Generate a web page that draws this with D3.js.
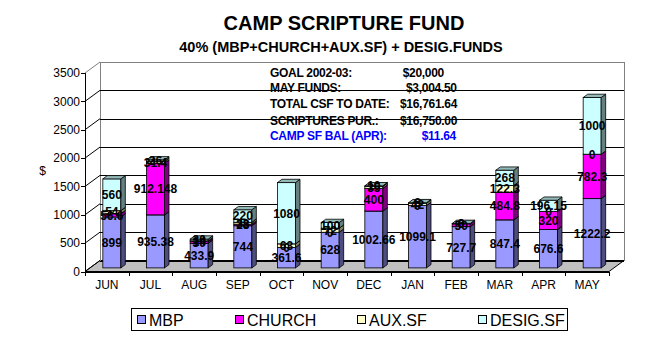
<!DOCTYPE html>
<html><head><meta charset="utf-8">
<script src="https://cdn.jsdelivr.net/npm/d3@7"></script>
<style>html,body{margin:0;padding:0;background:#fff;}svg{display:block;}</style>
</head><body>
<script>
const months = ["JUN","JUL","AUG","SEP","OCT","NOV","DEC","JAN","FEB","MAR","APR","MAY"];
const mbp     = [899, 935.38, 433.9, 744, 361.6, 628, 1002.66, 1099.1, 727.7, 847.4, 676.6, 1222.2];
const church  = [56.6, 912.148, 30, 28, 0, 0, 400, 0, 50, 484.8, 320, 782.3];
const auxSf   = [54, 31.4, 14, 33, 63, 72, 35, 42, 0, 122.3, 0, 0];
const desigSf = [560, 26, 30, 220, 1080, 100, 10, 8, 6, 268, 196.15, 1000];
const seriesNames = ["MBP","CHURCH","AUX.SF","DESIG.SF"];
const seriesColors = ["#9999FF","#FF00FF","#FFFFCC","#CCFFFF"];
const yTicks = [0,500,1000,1500,2000,2500,3000,3500];
const titleText = "CAMP SCRIPTURE FUND";
const subtitleText = "40% (MBP+CHURCH+AUX.SF) + DESIG.FUNDS";
const infoRows = [
  ["GOAL 2002-03:", "$20,000"],
  ["MAY FUNDS:", "$3,004.50"],
  ["TOTAL CSF TO DATE:", "$16,761.64"],
  ["SCRIPTURES PUR.:", "$16,750.00"],
  ["CAMP SF BAL (APR):", "$11.64"]
];

const W = 658, H = 338;
const svg = d3.select("body").append("svg").attr("width", W).attr("height", H)
  .style("font-family", "Arial, 'Liberation Sans', sans-serif");

const X0 = 85, X1 = 609, DX = 15, DY = 11;
const y = d3.scaleLinear().domain([0, 3500]).range([271.5, 73]);
const x = d3.scaleBand().domain(months).range([X0, X1]).paddingInner(0.588).paddingOuter(0.294);
const bw = x.bandwidth();
const ox = 5, oy = -3.6, bdx = 4.5, bdy = 3.3;

// floor
svg.append("polygon")
  .attr("points", [[X0, y(0)], [X0 + DX, y(0) - DY], [X1 + DX, y(0) - DY], [X1, y(0)]].map(p => p.join(",")).join(" "))
  .attr("fill", "#C0C0C0").attr("stroke", "#000").attr("stroke-width", 1);

// walls
const g = svg.append("g").attr("shape-rendering", "crispEdges");
g.append("line").attr("x1", X0 + DX).attr("x2", X0 + DX).attr("y1", y(3500) - DY).attr("y2", y(0) - DY).attr("stroke", "#808080");
g.append("line").attr("x1", X1 + DX).attr("x2", X1 + DX).attr("y1", y(3500) - DY).attr("y2", y(0) - DY).attr("stroke", "#808080");
yTicks.forEach(t => {
  const col = t === 3500 ? "#808080" : "#000";
  g.append("line").attr("x1", X0 + DX).attr("x2", X1 + DX).attr("y1", Math.round(y(t) - DY) + 0.5).attr("y2", Math.round(y(t) - DY) + 0.5).attr("stroke", col);
});
yTicks.forEach(t => {
  const col = t === 3500 ? "#808080" : "#000";
  svg.append("line").attr("x1", X0).attr("y1", y(t)).attr("x2", X0 + DX).attr("y2", y(t) - DY).attr("stroke", col).attr("stroke-width", 1);
});

// axes
g.append("line").attr("x1", X0 + 0.5).attr("x2", X0 + 0.5).attr("y1", y(3500)).attr("y2", y(0)).attr("stroke", "#000");
g.append("line").attr("x1", X0).attr("x2", X1).attr("y1", Math.round(y(0)) + 0.5).attr("y2", Math.round(y(0)) + 0.5).attr("stroke", "#000");
yTicks.forEach(t => {
  g.append("line").attr("x1", X0 - 4).attr("x2", X0).attr("y1", Math.round(y(t)) + 0.5).attr("y2", Math.round(y(t)) + 0.5).attr("stroke", "#000");
  svg.append("text").attr("x", X0 - 5).attr("y", y(t)).attr("dy", "0.35em").attr("text-anchor", "end")
    .attr("font-size", 12).text(t);
});
d3.range(months.length + 1).forEach(i => {
  const xx = Math.round(X0 + i * x.step()) + 0.5;
  g.append("line").attr("x1", xx).attr("x2", xx).attr("y1", y(0)).attr("y2", y(0) + 4).attr("stroke", "#000");
});
months.forEach(m => {
  svg.append("text").attr("x", x(m) + bw / 2).attr("y", 289).attr("text-anchor", "middle")
    .attr("font-size", 12).text(m);
});
svg.append("text").attr("x", 42.5).attr("y", 175).attr("text-anchor", "middle").attr("font-size", 12).text("$");

// bars
const rows = months.map((m, i) => ({ m, MBP: mbp[i], CHURCH: church[i], "AUX.SF": auxSf[i], "DESIG.SF": desigSf[i] }));
const stack = d3.stack().keys(seriesNames)(rows);
const shade = (c, k) => { const o = d3.rgb(c); return d3.rgb(o.r * k, o.g * k, o.b * k).formatHex(); };

const barG = svg.append("g");
months.forEach((m, i) => {
  stack.forEach((s, si) => {
    const d = s[i];
    if (d[1] - d[0] <= 0) return;
    const xa = x(m) + ox, xb = xa + bw;
    const yb = y(d[0]) + oy, yt = y(d[1]) + oy;
    const c = seriesColors[si];
    barG.append("rect").attr("x", xa).attr("y", yt).attr("width", bw).attr("height", yb - yt)
      .attr("fill", c).attr("stroke", "#000").attr("stroke-width", 0.8);
    barG.append("polygon").attr("points", [[xb, yb], [xb + bdx, yb - bdy], [xb + bdx, yt - bdy], [xb, yt]].map(p => p.join(",")).join(" "))
      .attr("fill", shade(c, 0.5)).attr("stroke", "#000").attr("stroke-width", 0.8);
    barG.append("polygon").attr("points", [[xa, yt], [xa + bdx, yt - bdy], [xb + bdx, yt - bdy], [xb, yt]].map(p => p.join(",")).join(" "))
      .attr("fill", shade(c, 0.72)).attr("stroke", "#000").attr("stroke-width", 0.8);
  });
});

// data labels
const labG = svg.append("g").attr("font-weight", "bold").attr("font-size", 12)
  .style("font-family", "'Liberation Sans Narrow', 'Arial Narrow', Arial, sans-serif");
stack.forEach((s, si) => {
  s.forEach((d, i) => {
    const v = d[1] - d[0];
    const xa = x(months[i]) + ox;
    labG.append("text").attr("x", xa + bw / 2).attr("y", (y(d[0]) + y(d[1])) / 2 + oy).attr("dy", "0.36em")
      .attr("text-anchor", "middle").attr("fill", "#000").text(String(+v.toFixed(3)));
  });
});

// info box
const infoBase = [76.7, 91.7, 108.3, 124.5, 140];
const valX = [402.7, 406, 400, 400, 421.7];
infoRows.forEach((r, i) => {
  const col = i === 4 ? "#0000FF" : "#000";
  svg.append("text").attr("x", 270).attr("y", infoBase[i]).attr("font-size", 12).attr("font-weight", "bold")
    .attr("letter-spacing", -0.3).attr("fill", col).text(r[0]);
  svg.append("text").attr("x", valX[i]).attr("y", infoBase[i]).attr("font-size", 12).attr("font-weight", "bold")
    .attr("letter-spacing", -0.3).attr("fill", col).text(r[1]);
});

// titles
svg.append("text").attr("x", 344).attr("y", 30).attr("text-anchor", "middle").attr("font-size", 20).attr("font-weight", "bold").text(titleText);
svg.append("text").attr("x", 341).attr("y", 52).attr("text-anchor", "middle").attr("font-size", 14.5).attr("font-weight", "bold").text(subtitleText);

// legend
const lg = svg.append("g");
lg.append("rect").attr("x", 131.5).attr("y", 308.5).attr("width", 436).attr("height", 22).attr("fill", "#fff").attr("stroke", "#000");
const legX = [137, 235, 357, 478];
seriesNames.forEach((n, i) => {
  lg.append("rect").attr("x", legX[i] + 0.5).attr("y", 315.5).attr("width", 8).attr("height", 8)
    .attr("fill", seriesColors[i]).attr("stroke", "#000");
  lg.append("text").attr("x", legX[i] + 12).attr("y", 325.5).attr("font-size", 16).text(n);
});
</script>
</body></html>
